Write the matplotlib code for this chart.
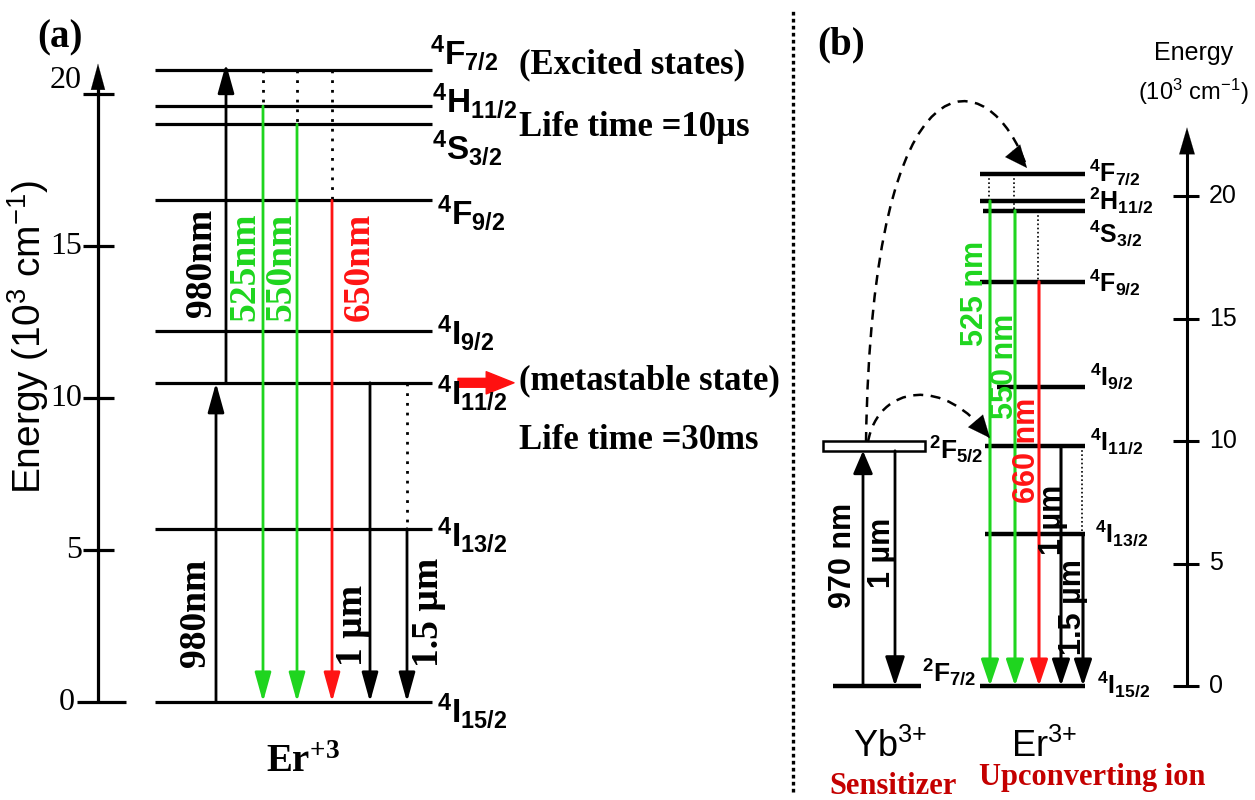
import matplotlib.pyplot as plt
from matplotlib import font_manager
from matplotlib.path import Path
from matplotlib.patches import PathPatch, Rectangle

# Er3+ manifolds, top to bottom
er_states = ['4F7/2', '4H11/2', '4S3/2', '4F9/2', '4I9/2', '4I11/2', '4I13/2', '4I15/2']
# energies (10^3 cm^-1) used in diagram (a) and diagram (b)
er_energy_a = [20.8, 19.6, 19.0, 16.5, 12.2, 10.5, 5.7, 0.0]
er_energy_b = [20.9, 19.8, 19.4, 16.5, 12.2, 9.8, 6.2, 0.0]
er_labels_a = [r'$\mathregular{{}^4F_{7/2}}$', r'$\mathregular{{}^4H_{11/2}}$',
               r'$\mathregular{{}^4S_{3/2}}$', r'$\mathregular{{}^4F_{9/2}}$',
               r'$\mathregular{{}^4I_{9/2}}$', r'$\mathregular{{}^4I_{11/2}}$',
               r'$\mathregular{{}^4I_{13/2}}$', r'$\mathregular{{}^4I_{15/2}}$']
er_labels_b = [r'$\mathregular{{}^4F_{7/2}}$', r'$\mathregular{{}^2H_{11/2}}$',
               r'$\mathregular{{}^4S_{3/2}}$', r'$\mathregular{{}^4F_{9/2}}$',
               r'$\mathregular{{}^4I_{9/2}}$', r'$\mathregular{{}^4I_{11/2}}$',
               r'$\mathregular{{}^4I_{13/2}}$', r'$\mathregular{{}^4I_{15/2}}$']

# Yb3+ sensitizer levels
yb_states = ['2F5/2', '2F7/2']
yb_energy = [9.8, 0.0]
yb_labels = [r'$\mathregular{{}^2F_{5/2}}$', r'$\mathregular{{}^2F_{7/2}}$']

energy_ticks = [0, 5, 10, 15, 20]

# radiative decays to the ground state 4I15/2
emis_from = ['4H11/2', '4S3/2', '4F9/2', '4I11/2', '4I13/2']
emis_text_a = ['525nm', '550nm', '650nm', '1 µm', '1.5 µm']
emis_text_b = ['525 nm', '550 nm', '660 nm', '1 µm', '1.5 µm']
emis_color = ['#1fd51f', '#1fd51f', '#ff1414', 'black', 'black']
# non-radiative relaxation feeding each emitting level
relax_a = [('4F7/2', '4H11/2'), ('4F7/2', '4S3/2'), ('4F7/2', '4F9/2'), None, ('4I11/2', '4I13/2')]
relax_b = [('4F7/2', '4H11/2'), ('4F7/2', '4S3/2'), ('4S3/2', '4F9/2'), None, ('4I11/2', '4I13/2')]


def pick(*names):
    for n in names:
        try:
            font_manager.findfont(n, fallback_to_default=False)
            return n
        except ValueError:
            pass
    return 'DejaVu Sans'


SERIF = pick('Liberation Serif', 'DejaVu Serif')
SANS = pick('Liberation Sans', 'DejaVu Sans')

W, H = 1255, 800
fig = plt.figure(figsize=(W / 100, H / 100), dpi=100)


def at(x, y):
    # pixel position (from top-left) -> figure fraction
    return x / W, 1 - y / H


# both diagrams share the canvas; x in pixels, y in energy
ax_a = fig.add_axes([0, 0, 1, 1])
ax_a.set_xlim(0, W)
ax_a.set_ylim((702 - H) / 30.4, 702 / 30.4)
ax_a.axis('off')
ax_b = fig.add_axes([0, 0, 1, 1])
ax_b.set_xlim(0, W)
ax_b.set_ylim((686 - H) / 24.5, 686 / 24.5)
ax_b.axis('off')

Ea = dict(zip(er_states, er_energy_a))
Eb = dict(zip(er_states, er_energy_b))
Yb = dict(zip(yb_states, yb_energy))


def arrow(ax, x, y0, y1, color='black', lw=2.0, hl=0.9, hw=0.25, ms=20):
    ax.annotate('', xy=(x, y1), xytext=(x, y0),
                arrowprops=dict(arrowstyle=f'-|>,head_length={hl},head_width={hw}',
                                color=color, lw=lw, mutation_scale=ms,
                                shrinkA=0, shrinkB=0))


# ---------------- (a) ----------------
fig.text(*at(60, 38), '(a)', family=SERIF, weight='bold', fontsize=28, ha='center', va='center')

# energy axis
ax_a.plot([98, 98], [0, 20.5], color='black', lw=2.3, solid_capstyle='butt')
arrow(ax_a, 98, 20.3, 21.0, lw=0.1, hl=1.1, hw=0.3, ms=17)
for t in energy_ticks:
    x0, x1 = (77, 126) if t == 0 else (83, 114)
    ax_a.plot([x0, x1], [t, t], color='black', lw=2.3, solid_capstyle='butt')
    ax_a.text(82 if t else 75, t + (0.45 if t == 20 else 0), str(t), family=SERIF, fontsize=23,
              ha='right', va='center')
fig.text(*at(28, 337), r'Energy (10$\mathregular{^3}$ cm$\mathregular{^{-1}}$)', family=SANS,
         fontsize=28, rotation=90, ha='center', va='center')

ax_a.hlines(er_energy_a, 155, 432, color='black', lw=2.3)

# 980 nm two-step pumping
arrow(ax_a, 216, Ea['4I15/2'], Ea['4I11/2'])
arrow(ax_a, 226, Ea['4I11/2'], Ea['4F7/2'] + 0.2)
fig.text(*at(201, 263), '980nm', family=SERIF, weight='bold', fontsize=27, rotation=90, ha='center', va='center')
fig.text(*at(195, 613), '980nm', family=SERIF, weight='bold', fontsize=27, rotation=90, ha='center', va='center')

emis_x_a = [263, 297, 332, 370, 407]
emis_lbl_a = [(245, 267), (281, 267), (359, 267), (352, 625), (429, 612)]
for s, txt, c, x, (lx, ly), rel in zip(emis_from, emis_text_a, emis_color, emis_x_a, emis_lbl_a, relax_a):
    arrow(ax_a, x, Ea[s], Ea['4I15/2'], color=c)
    if rel:
        ax_a.plot([x, x], [Ea[rel[0]], Ea[rel[1]]], color='black', lw=2.0, ls=(0, (1, 2.5)))
    fig.text(*at(lx, ly), txt, family=SERIF, weight='bold', fontsize=27, color=c,
             rotation=90, ha='center', va='center')

lbl_pos_a = [(430, 65), (432, 113), (432, 160), (437, 225), (437, 345), (437, 405), (437, 547), (437, 723)]
for lab, (x, y) in zip(er_labels_a, lbl_pos_a):
    fig.text(*at(x, y), lab, family=SANS, weight='bold', fontsize=24, ha='left', va='baseline')

fig.text(*at(303, 772), r'$\mathregular{Er^{+3}}$', family=SERIF, weight='bold', fontsize=28,
         ha='center', va='baseline')

# metastable level pointer
ax_a.annotate('', xy=(514, Ea['4I11/2']), xytext=(458, Ea['4I11/2']),
              arrowprops=dict(arrowstyle='simple,head_length=1.0,head_width=0.8,tail_width=0.32',
                              color='#ff1010', mutation_scale=20, shrinkA=0, shrinkB=0))

for txt, y in [('(Excited states)', 65), ('Life time =10µs', 127),
               ('(metastable state)', 381), ('Life time =30ms', 440)]:
    fig.text(*at(519, y), txt, family=SERIF, weight='bold', fontsize=25, ha='left', va='center')

# divider
ax_a.axvline(793, ymin=0.01, ymax=0.99, color='black', lw=2.4, ls=(0, (1.1, 1.0)))

# ---------------- (b) ----------------
fig.text(*at(841, 45), '(b)', family=SERIF, weight='bold', fontsize=28, ha='center', va='center')
fig.text(*at(1194, 53), 'Energy', family=SANS, fontsize=18, ha='center', va='center')
fig.text(*at(1193, 92), r'(10$\mathregular{^3}$ cm$\mathregular{^{-1}}$)', family=SANS, fontsize=17,
         ha='center', va='center')

ax_b.plot([1187, 1187], [0, 22.3], color='black', lw=2.2, solid_capstyle='butt')
arrow(ax_b, 1187, 22.0, 22.8, lw=0.1, hl=1.2, hw=0.35, ms=16)
for t in energy_ticks:
    ax_b.plot([1173, 1199], [t, t], color='black', lw=2.2, solid_capstyle='butt')
    ax_b.text(1209, t, str(t), family=SANS, fontsize=18, ha='left', va='center')

lev_x0_b = [980, 980, 983, 980, 997, 985, 985, 980]
for e, x0 in zip(er_energy_b, lev_x0_b):
    ax_b.plot([x0, 1085], [e, e], color='black', lw=3.2, solid_capstyle='butt')

# Yb3+ levels
ax_b.add_patch(Rectangle((823, Yb['2F5/2'] - 0.2), 102, 0.41, facecolor='white', edgecolor='black', lw=1.8))
ax_b.plot([833, 921], [Yb['2F7/2'], Yb['2F7/2']], color='black', lw=3.2, solid_capstyle='butt')
arrow(ax_b, 863, Yb['2F7/2'], Yb['2F5/2'] - 0.2, lw=2.0, hl=0.7, hw=0.3, ms=20)
arrow(ax_b, 895, Yb['2F5/2'] - 0.2, Yb['2F7/2'], lw=2.0, hl=0.9, hw=0.3, ms=20)
fig.text(*at(843, 555), '970 nm', family=SANS, weight='bold', fontsize=22, rotation=90, ha='center', va='center')
fig.text(*at(882, 553), '1 µm', family=SANS, weight='bold', fontsize=22, rotation=90, ha='center', va='center')
for lab, (x, y) in zip(yb_labels, [(929, 458), (922, 681)]):
    fig.text(*at(x, y), lab, family=SANS, weight='bold', fontsize=19, ha='left', va='baseline')

emis_x_b = [990, 1015, 1039, 1061, 1083]
emis_lbl_b = [(975, 293), (1005, 366), (1027, 450), (1053, 520), (1073, 607)]
for s, txt, c, x, (lx, ly), rel in zip(emis_from, emis_text_b, emis_color, emis_x_b, emis_lbl_b, relax_b):
    arrow(ax_b, x, Eb[s], Eb['4I15/2'], color=c, lw=2.2, hl=0.8, hw=0.27, ms=20)
    if rel:
        ax_b.plot([x - 1, x - 1], [Eb[rel[0]], Eb[rel[1]]], color='black', lw=1.2, ls=(0, (1, 1.5)))
    fig.text(*at(lx, ly), txt, family=SANS, weight='bold', fontsize=22, color=c,
             rotation=90, ha='center', va='center')

lbl_pos_b = [(1089, 181), (1089, 209), (1089, 242), (1089, 291), (1090, 385), (1090, 450), (1095, 542), (1097, 693)]
for lab, (x, y) in zip(er_labels_b, lbl_pos_b):
    fig.text(*at(x, y), lab, family=SANS, weight='bold', fontsize=18, ha='left', va='baseline')

# energy transfer Yb -> Er (dashed)
pb = lambda py: (686 - py) / 24.5
for p0, p1, p2, p3, prev in [((866, 442), (872, 40), (990, 60), (1027, 168), (1012, 150)),
                             ((868, 442), (878, 385), (945, 375), (990, 438), (979, 425))]:
    verts = [(x, pb(y)) for x, y in (p0, p1, p2, p3)]
    ax_b.add_patch(PathPatch(Path(verts, [Path.MOVETO, Path.CURVE4, Path.CURVE4, Path.CURVE4]),
                             facecolor='none', edgecolor='black', lw=1.8, ls=(0, (4, 3))))
    ax_b.annotate('', xy=(p3[0], pb(p3[1])), xytext=(prev[0], pb(prev[1])),
                  arrowprops=dict(arrowstyle='-|>,head_length=0.8,head_width=0.35', color='black',
                                  lw=0.1, mutation_scale=20, shrinkA=0, shrinkB=0))

fig.text(*at(890, 757), r'$\mathregular{Yb^{3{+}}}$', family=SANS, fontsize=26, ha='center', va='baseline')
fig.text(*at(1044, 757), r'$\mathregular{Er^{3{+}}}$', family=SANS, fontsize=26, ha='center', va='baseline')
fig.text(*at(893, 786), 'Sensitizer', family=SERIF, weight='bold', fontsize=22, color='#c40000',
         ha='center', va='center')
fig.text(*at(1092, 778), 'Upconverting ion', family=SERIF, weight='bold', fontsize=22, color='#c40000',
         ha='center', va='center')

fig.savefig('out.png', dpi=100)
